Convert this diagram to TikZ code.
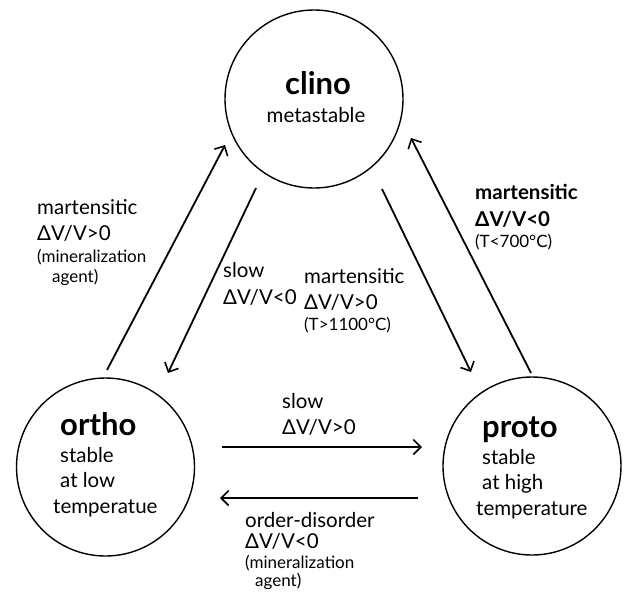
\documentclass[tikz,border=0pt]{standalone}
\usepackage{fontspec}
\setmainfont{Lato}
\usetikzlibrary{arrows.meta}
\begin{document}
\begin{tikzpicture}[x=1pt,y=-1pt,
  state/.style={circle,draw,line width=1.4pt,minimum size=178pt,inner sep=0pt},
  conn/.style={line width=1.8pt,-{Straight Barb[length=7.5pt,width=15pt,line width=1.6pt]}},
  lbl/.style={anchor=base west,inner sep=0pt,font=\fontsize{20.5}{22}\selectfont},
  sml/.style={anchor=base west,inner sep=0pt,font=\fontsize{17}{18}\selectfont},
  ttl/.style={anchor=base west,inner sep=0pt,font=\fontsize{31}{32}\selectfont\bfseries}]
\useasboundingbox (0,0) rectangle (624,592);

% states
\node[state] (clino) at (314,99) {};
\node[state] (ortho) at (105.5,467) {};
\node[state] (proto) at (532,466) {};

% state texts
\node[ttl,anchor=base] (clinoT) at (318,94) {clino};
\node[lbl,anchor=base] (clinoS) at (316,122) {metastable};

\node[ttl] (orthoT) at (60,435) {ortho};
\node[lbl] (ortho1) at (60,462) {stable};
\node[lbl] (ortho2) at (60,487) {at low};
\node[lbl] (ortho3) at (53,513) {temperatue};

\node[ttl] (protoT) at (482,437) {proto};
\node[lbl] (proto1) at (482,464) {stable};
\node[lbl] (proto2) at (482,489) {at high};
\node[lbl] (proto3) at (476,515) {temperature};

% connector end points
\coordinate (oc1) at (107,370);
\coordinate (oc2) at (225,145);
\coordinate (co1) at (256,188);
\coordinate (co2) at (168,373);
\coordinate (cp1) at (382,189);
\coordinate (cp2) at (471,372);
\coordinate (pc1) at (531,373);
\coordinate (pc2) at (411,138);
\coordinate (op1) at (222,447);
\coordinate (op2) at (422,447);
\coordinate (po1) at (418,498);
\coordinate (po2) at (220,498);

\draw[conn] (oc1) -- (oc2);
\draw[conn] (co1) -- (co2);
\draw[conn] (cp1) -- (cp2);
\draw[conn] (pc1) -- (pc2);
\draw[conn] (op1) -- (op2);
\draw[conn] (po1) -- (po2);

% labels
\node[lbl] (l1a) at (37,214) {martensitic};
\node[lbl] (l1b) at (37,240) {ΔV/V>0};
\node[sml] (l1c) at (37,262) {(mineralization};
\node[sml] (l1d) at (52,282) {agent)};

\node[lbl] (l2a) at (223,277) {slow};
\node[lbl] (l2b) at (223,304) {ΔV/V<0};

\node[lbl] (l3a) at (304,283) {martensitic};
\node[lbl] (l3b) at (304,309) {ΔV/V>0};
\node[sml] (l3c) at (304,330) {(T>1100°C)};

\node[lbl,font=\fontsize{20.5}{22}\selectfont\bfseries] (l4a) at (475,199) {martensitic};
\node[lbl,font=\fontsize{20.5}{22}\selectfont\bfseries] (l4b) at (475,226) {ΔV/V<0};
\node[sml] (l4c) at (475,247) {(T<700°C)};

\node[lbl] (l5a) at (282,408) {slow};
\node[lbl] (l5b) at (282,434) {ΔV/V>0};

\node[lbl] (l6a) at (245,527) {order-disorder};
\node[lbl] (l6b) at (245,548) {ΔV/V<0};
\node[sml] (l6c) at (245,568) {(mineralization};
\node[sml] (l6d) at (255,586) {agent)};
\end{tikzpicture}
\end{document}
